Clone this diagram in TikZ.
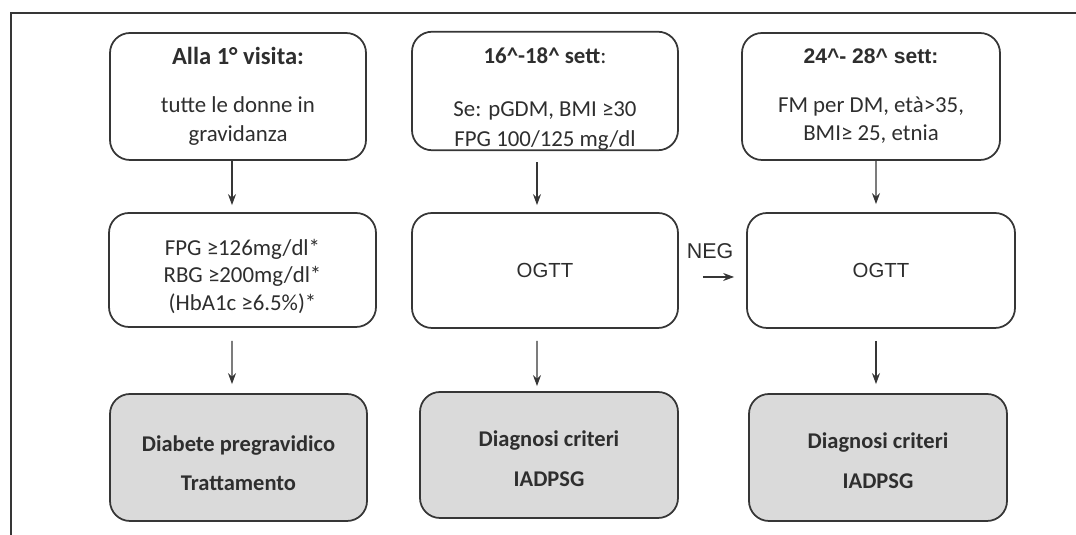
\documentclass[tikz,border=0pt]{standalone}
\usepackage{fontspec}
\setmainfont{Carlito}
\newfontfamily\arialfont{Liberation Sans}
\usetikzlibrary{arrows.meta}
\definecolor{boxline}{HTML}{363636}
\definecolor{boxfill}{HTML}{DADADA}
\definecolor{textgray}{HTML}{2E2E2E}
% strut that pushes a line of text down
\newcommand{\lift}[1]{\rule{0pt}{#1}}

\begin{document}
\begin{tikzpicture}[
   box/.style={draw=boxline, line width=0.5pt, rounded corners=0.2cm, align=center, text=textgray, inner sep=0pt, font=\fontsize{6.5}{8.2}\selectfont},
   result/.style={box, fill=boxfill, font=\bfseries\fontsize{6.4}{8.2}\selectfont},
   arrow/.style={draw=boxline, line width=0.4pt, -{Stealth[length=1.1mm, width=0.8mm]}}
   ]

   \useasboundingbox (0,0) rectangle (10.76,-5.35);
   \draw [line width=0.5pt, boxline] (0.11,-5.35) -- (0.11,-0.13) -- (10.76,-0.13);

   \node (Prima-visita) at (2.38,-0.965) [box, minimum width=2.56cm, minimum height=1.27cm] {{\bfseries\fontsize{7}{8.2}\selectfont Alla 1° visita:}\\[5.5pt] tutte le donne in\\ gravidanza};
   \node (Test-iniziale) at (2.425,-2.70) [box, minimum width=2.67cm, minimum height=1.14cm] {\lift{8.3pt}FPG ≥126mg/dl*\\[-0.3pt] RBG ≥200mg/dl*\\[-0.3pt] (HbA1c ≥6.5\%)*};
   \node (Diabete-pregravidico) at (2.385,-4.575) [result, minimum width=2.57cm, minimum height=1.27cm] {\lift{7.6pt}Diabete pregravidico\\[3pt] Trattamento};

   \node (Sett-16-18) at (5.45,-0.91) [box, minimum width=2.66cm, minimum height=1.16cm] {\lift{8.9pt}{\bfseries 16\textasciicircum-18\textasciicircum{} sett}:\\[7pt] Se: pGDM, BMI ≥30\\[0.3pt] FPG 100/125 mg/dl};
   \node (OGTT-16-18) at (5.45,-2.705) [box, minimum width=2.66cm, minimum height=1.15cm, font=\arialfont\fontsize{5.8}{7}\selectfont] {OGTT};
   \node (Diagnosi-16-18) at (5.49,-4.55) [result, minimum width=2.58cm, minimum height=1.26cm] {\lift{6.5pt}Diagnosi criteri\\[3.2pt] IADPSG};

   \node (Sett-24-28) at (8.71,-0.965) [box, minimum width=2.58cm, minimum height=1.27cm] {{\arialfont\bfseries\fontsize{6}{8}\selectfont 24\textasciicircum- 28\textasciicircum{} sett:}\\[5.5pt] FM per DM, età>35,\\ BMI≥ 25, etnia};
   \node (OGTT-24-28) at (8.81,-2.705) [box, minimum width=2.68cm, minimum height=1.15cm, font=\arialfont\fontsize{5.8}{7}\selectfont] {OGTT};
   \node (Diagnosi-24-28) at (8.78,-4.575) [result, minimum width=2.58cm, minimum height=1.27cm] {\lift{6.5pt}Diagnosi criteri\\[3.2pt] IADPSG};

   \node (NEG) at (7.10,-2.51) [text=textgray, font=\arialfont\fontsize{6.1}{7}\selectfont] {NEG};

   \draw [arrow, shorten >=0.07cm] ([xshift=-0.06cm]Prima-visita.south) -- ([xshift=-0.105cm]Test-iniziale.north);
   \draw [arrow, shorten <=0.13cm, shorten >=0.09cm] ([xshift=-0.105cm]Test-iniziale.south) -- ([xshift=-0.065cm]Diabete-pregravidico.north);

   \draw [arrow, shorten <=0.11cm, shorten >=0.07cm] ([xshift=-0.08cm]Sett-16-18.south) -- ([xshift=-0.08cm]OGTT-16-18.north);
   \draw [arrow, shorten <=0.12cm, shorten >=0.05cm] ([xshift=-0.08cm]OGTT-16-18.south) -- ([xshift=-0.12cm]Diagnosi-16-18.north);

   \draw [arrow, shorten >=0.08cm] ([xshift=0.05cm]Sett-24-28.south) -- ([xshift=-0.05cm]OGTT-24-28.north);
   \draw [arrow, shorten <=0.12cm, shorten >=0.09cm] ([xshift=-0.05cm]OGTT-24-28.south) -- ([xshift=-0.02cm]Diagnosi-24-28.north);

   \draw [arrow, shorten <=0.24cm, shorten >=0.12cm] ([yshift=-0.065cm]OGTT-16-18.east) -- ([yshift=-0.065cm]OGTT-24-28.west);

\end{tikzpicture}
\end{document}
